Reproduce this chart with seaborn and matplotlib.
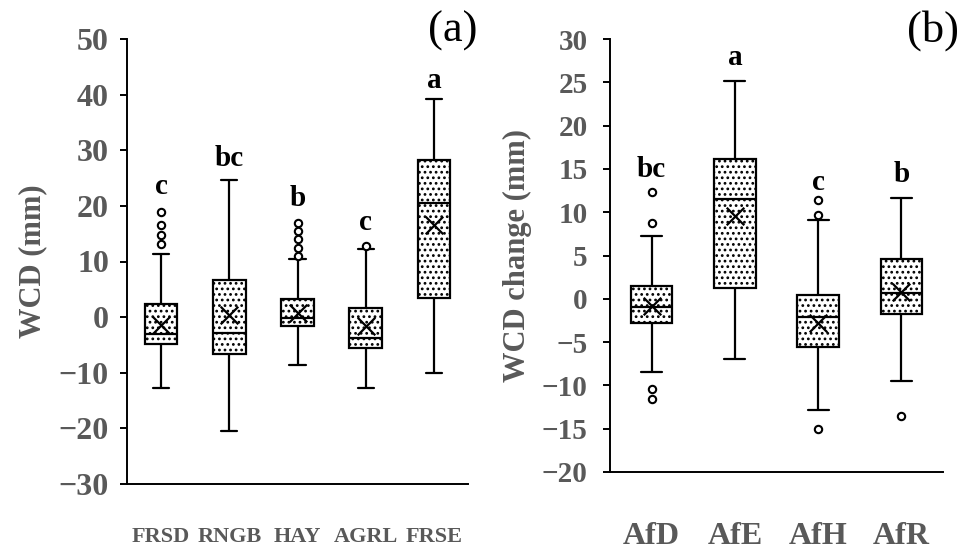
import numpy as np
import pandas as pd
import matplotlib
matplotlib.use("Agg")
import matplotlib.pyplot as plt
import seaborn as sns

# ---------------- data ----------------
# panel (a)
cats_a = ["FRSD", "RNGB", "HAY", "AGRL", "FRSE"]
low_a = [-12.7, -20.5, -8.6, -12.8, -10.1]
q1_a = [-4.9, -6.7, -1.6, -5.5, 3.5]
med_a = [-3.1, -2.9, -0.1, -3.7, 20.6]
q3_a = [2.3, 6.7, 3.3, 1.7, 28.2]
high_a = [11.4, 24.6, 10.5, 12.3, 39.3]
mean_a = [-1.4, 0.4, 0.8, -1.6, 16.5]
out_a = {"FRSD": [18.9, 16.5, 14.7, 13.1],
         "HAY": [17.0, 15.5, 14.0, 12.5, 10.9],
         "AGRL": [12.8]}
letters_a = ["c", "bc", "b", "c", "a"]
letter_y_a = [23.4, 28.5, 21.3, 17.0, 42.6]
yticks_a = [-30, -20, -10, 0, 10, 20, 30, 40, 50]

# panel (b)
cats_b = ["AfD", "AfE", "AfH", "AfR"]
low_b = [-8.4, -6.9, -12.8, -9.5]
q1_b = [-2.85, 1.3, -5.6, -1.7]
med_b = [-1.0, 11.5, -2.1, 0.7]
q3_b = [1.5, 16.1, 0.45, 4.6]
high_b = [7.3, 25.2, 9.1, 11.6]
mean_b = [-0.85, 9.6, -2.8, 0.8]
out_b = {"AfD": [12.3, 8.7, -10.4, -11.6],
         "AfH": [11.4, 9.7, -15.0],
         "AfR": [-13.5]}
letters_b = ["bc", "a", "c", "b"]
letter_y_b = [14.9, 27.9, 13.4, 14.4]
yticks_b = [-20, -15, -10, -5, 0, 5, 10, 15, 20, 25, 30]

# ---------------- style ----------------
sns.set_theme(style="ticks")
plt.rcParams["font.family"] = ["Liberation Serif", "DejaVu Serif"]
plt.rcParams["font.weight"] = "bold"
plt.rcParams["hatch.linewidth"] = 1.2
plt.rcParams["hatch.color"] = "black"
GREY = "#595959"

fig = plt.figure(figsize=(9.66, 5.52), dpi=100)
ax_a = fig.add_axes([127 / 966, 1 - 484 / 552, 341 / 966, 445 / 552])
ax_b = fig.add_axes([610 / 966, 1 - 472 / 552, 333 / 966, 433 / 552])


def panel(ax, cats, low, q1, med, q3, high, mean, outs, letters, ly,
          yticks, ylim, width, ylabel, tick_fs, cat_fs, cat_pad, ytick_pad, tag):
    rows = []
    for c, a, b, m, d, e in zip(cats, low, q1, med, q3, high):
        for v in (a, b, m, d, e):
            rows.append({"cat": c, "val": v})
    df = pd.DataFrame(rows)
    sns.boxplot(data=df, x="cat", y="val", order=cats, whis=(0, 100),
                width=width, color="white", linecolor="black", linewidth=1.6,
                showfliers=False, ax=ax)
    for p in ax.patches:
        p.set_hatch("...")
        p.set_facecolor("white")
        p.set_edgecolor("black")
    pos = {c: i for i, c in enumerate(cats)}
    # means
    mdf = pd.DataFrame({"x": [pos[c] for c in cats], "y": mean})
    sns.scatterplot(data=mdf, x="x", y="y", marker="x", s=160, color="black",
                    linewidth=1.6, ax=ax, zorder=5, legend=False)
    # outliers
    ox, oy = [], []
    for c, vals in outs.items():
        for v in vals:
            ox.append(pos[c])
            oy.append(v)
    odf = pd.DataFrame({"x": ox, "y": oy})
    ax.scatter(odf["x"], odf["y"], s=28, facecolors="white",
               edgecolors="black", linewidths=1.5, zorder=5)
    for i, (t, y) in enumerate(zip(letters, ly)):
        ax.text(i, y, t, ha="center", va="center", fontsize=21,
                fontweight="bold", color="black")
    ax.set_xlim(-0.5, len(cats) - 0.5)
    ax.set_ylim(*ylim)
    ax.set_yticks(yticks)
    ax.set_xticks(range(len(cats)))
    ax.set_xticklabels(cats)
    ax.set_xlabel("")
    ax.set_ylabel(ylabel, fontsize=22, fontweight="bold", color=GREY)
    ax.yaxis.set_label_coords(-0.235, 0.5)
    sns.despine(ax=ax)
    for s in ("left", "bottom"):
        ax.spines[s].set_linewidth(1.4)
        ax.spines[s].set_color("black")
    ax.tick_params(axis="y", length=5, width=1.4, color="black",
                   labelsize=tick_fs, labelcolor=GREY, pad=ytick_pad)
    ax.tick_params(axis="x", length=0, labelsize=cat_fs, labelcolor=GREY,
                   pad=cat_pad)
    for lab in ax.get_xticklabels() + ax.get_yticklabels():
        lab.set_fontweight("bold")
    ax.text(tag[0], tag[1], tag[2], transform=fig.transFigure, ha="center",
            va="center", fontsize=32, fontweight="normal", color="black")


panel(ax_a, cats_a, low_a, q1_a, med_a, q3_a, high_a, mean_a, out_a,
      letters_a, letter_y_a, yticks_a, (-30, 50), 0.48, "WCD (mm)",
      23, 16, 31, 8, (453 / 966, 1 - 31 / 552, "(a)"))
panel(ax_b, cats_b, low_b, q1_b, med_b, q3_b, high_b, mean_b, out_b,
      letters_b, letter_y_b, yticks_b, (-20, 30), 0.5, "WCD change (mm)",
      21, 23, 36, 11, (933 / 966, 1 - 31 / 552, "(b)"))

fig.savefig("out.png", dpi=100)
